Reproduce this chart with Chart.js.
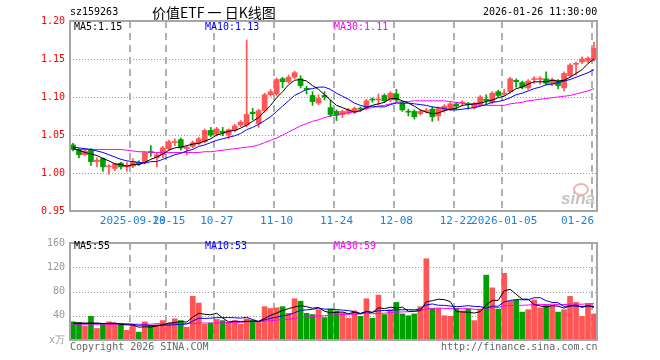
<!DOCTYPE html>
<html>
<head>
<meta charset="utf-8">
<script src="https://cdn.jsdelivr.net/npm/chart.js@4.4.1/dist/chart.umd.min.js"></script>
<style>
  body { margin: 0; background: #fff; }
  #wrap { position: relative; width: 660px; height: 360px; overflow: hidden; font-family: "DejaVu Sans Mono", monospace; font-size: 10px; }
  canvas { position: absolute; left: 0; }
  .t { position: absolute; line-height: 12px; white-space: pre; }
</style>
</head>
<body>
<div id="wrap">
  <canvas id="kline" width="660" height="232" style="top:0"></canvas>
  <canvas id="vol" width="660" height="128" style="top:232px"></canvas>

  <div class="t" style="left:70px;top:6px;color:#000">sz159263</div>
  <div class="t" style="left:152px;top:4px;font:14px 'Noto Sans CJK SC';line-height:16px;color:#000">价值ETF 一 日K线图</div>
  <div class="t" style="left:483px;top:6px;color:#000">2026-01-26 11:30:00</div>

  <div class="t" style="left:74px;top:21px;color:#000">MA5:1.15</div>
  <div class="t" style="left:205px;top:21px;color:#0000ff">MA10:1.13</div>
  <div class="t" style="left:334px;top:21px;color:#ff00ff">MA30:1.11</div>

  <div class="t" style="left:74px;top:240px;color:#000">MA5:55</div>
  <div class="t" style="left:205px;top:240px;color:#0000ff">MA10:53</div>
  <div class="t" style="left:334px;top:240px;color:#ff00ff">MA30:59</div>

  <div class="t" style="left:70px;top:341px;color:#666">Copyright 2026 SINA.COM</div>
  <div class="t" style="left:441px;top:341px;color:#666">http://finance.sina.com.cn</div>

  <!-- sina watermark -->
  <div style="position:absolute;left:573px;top:183px;width:12px;height:9px;border:2px solid #f3b0b0;border-radius:50%"></div>
  <div class="t" style="left:561px;top:190px;font:italic bold 17px 'Liberation Sans';line-height:18px;color:#c4c4c4">sina</div>
</div>

<script>
// trading days shown on the chart
var dates = ['2025-09-15','2025-09-16','2025-09-17','2025-09-18','2025-09-19','2025-09-22','2025-09-23','2025-09-24','2025-09-25','2025-09-26',
  '2025-09-29','2025-09-30','2025-10-09','2025-10-10','2025-10-13','2025-10-14','2025-10-15','2025-10-16','2025-10-17','2025-10-20',
  '2025-10-21','2025-10-22','2025-10-23','2025-10-24','2025-10-27','2025-10-28','2025-10-29','2025-10-30','2025-10-31','2025-11-03',
  '2025-11-04','2025-11-05','2025-11-06','2025-11-07','2025-11-10','2025-11-11','2025-11-12','2025-11-13','2025-11-14','2025-11-17',
  '2025-11-18','2025-11-19','2025-11-20','2025-11-21','2025-11-24','2025-11-25','2025-11-26','2025-11-27','2025-11-28','2025-12-01',
  '2025-12-02','2025-12-03','2025-12-04','2025-12-05','2025-12-08','2025-12-09','2025-12-10','2025-12-11','2025-12-12','2025-12-15',
  '2025-12-16','2025-12-17','2025-12-18','2025-12-19','2025-12-22','2025-12-23','2025-12-24','2025-12-25','2025-12-26','2025-12-29',
  '2025-12-30','2025-12-31','2026-01-05','2026-01-06','2026-01-07','2026-01-08','2026-01-09','2026-01-12','2026-01-13','2026-01-14',
  '2026-01-15','2026-01-16','2026-01-19','2026-01-20','2026-01-21','2026-01-22','2026-01-23','2026-01-26'];

// which days get a label + dashed grid line
// (last one padded so it stays inside the plot, like the original)
var tickIdx = [10, 16, 24, 34, 44, 54, 64, 72, 87];
var tickText = ['2025-09-29', '10-15', '10-27', '11-10', '11-24', '12-08', '12-22', '2026-01-05', '01-26     '];

var open = [1.037,1.031,1.024,1.031,1.015,1.019,1.008,1.006,1.013,1.008,
  1.009,1.014,1.014,1.028,1.020,1.024,1.032,1.040,1.044,1.032,
  1.035,1.039,1.041,1.056,1.051,1.055,1.050,1.056,1.063,1.063,
  1.080,1.065,1.082,1.103,1.104,1.124,1.120,1.126,1.124,1.111,
  1.102,1.092,1.102,1.086,1.081,1.077,1.079,1.080,1.085,1.085,
  1.097,1.096,1.102,1.096,1.104,1.092,1.081,1.081,1.078,1.081,
  1.084,1.075,1.082,1.084,1.091,1.092,1.091,1.086,1.090,1.097,
  1.093,1.107,1.104,1.107,1.122,1.119,1.112,1.123,1.123,1.124,
  1.117,1.121,1.112,1.128,1.143,1.146,1.147,1.149];
var high = [1.039,1.032,1.032,1.032,1.020,1.020,1.011,1.013,1.014,1.014,
  1.019,1.016,1.028,1.036,1.026,1.035,1.043,1.045,1.046,1.036,
  1.042,1.047,1.058,1.060,1.060,1.060,1.058,1.064,1.069,1.175,
  1.085,1.084,1.105,1.110,1.125,1.126,1.129,1.134,1.128,1.114,
  1.107,1.103,1.107,1.096,1.083,1.083,1.085,1.087,1.087,1.097,
  1.099,1.104,1.104,1.107,1.110,1.094,1.084,1.083,1.083,1.085,
  1.087,1.087,1.090,1.093,1.093,1.095,1.093,1.093,1.102,1.103,
  1.107,1.109,1.110,1.126,1.124,1.121,1.123,1.127,1.127,1.133,
  1.125,1.123,1.133,1.144,1.146,1.153,1.153,1.172];
var low = [1.029,1.020,1.023,1.010,1.008,1.002,0.998,1.003,1.005,1.002,
  1.007,1.010,1.012,1.022,1.008,1.020,1.030,1.036,1.030,1.024,
  1.033,1.037,1.040,1.048,1.049,1.049,1.045,1.054,1.061,1.061,
  1.070,1.060,1.080,1.101,1.102,1.112,1.118,1.124,1.112,1.104,
  1.089,1.090,1.096,1.074,1.069,1.073,1.077,1.078,1.081,1.083,
  1.093,1.089,1.093,1.094,1.094,1.081,1.075,1.071,1.076,1.079,
  1.068,1.069,1.080,1.082,1.084,1.088,1.084,1.084,1.088,1.090,
  1.091,1.100,1.102,1.105,1.113,1.111,1.110,1.118,1.117,1.116,
  1.115,1.111,1.108,1.126,1.129,1.144,1.145,1.147];
var close = [1.031,1.024,1.029,1.015,1.017,1.008,1.009,1.012,1.008,1.010,
  1.015,1.012,1.027,1.027,1.024,1.033,1.041,1.041,1.033,1.034,
  1.040,1.045,1.056,1.050,1.058,1.053,1.057,1.062,1.067,1.077,
  1.078,1.082,1.103,1.107,1.123,1.120,1.126,1.132,1.115,1.110,
  1.094,1.098,1.100,1.077,1.076,1.081,1.083,1.085,1.084,1.095,
  1.096,1.097,1.095,1.105,1.096,1.083,1.080,1.074,1.081,1.082,
  1.074,1.085,1.088,1.091,1.088,1.093,1.090,1.091,1.100,1.095,
  1.105,1.102,1.105,1.124,1.120,1.113,1.121,1.124,1.124,1.118,
  1.123,1.115,1.131,1.142,1.144,1.150,1.151,1.164];

var ma5 = [1.032,1.030,1.027,1.025,1.023,1.019,1.016,1.012,1.011,1.009,
  1.011,1.011,1.014,1.018,1.021,1.025,1.030,1.033,1.034,1.036,
  1.038,1.039,1.042,1.045,1.050,1.052,1.055,1.056,1.059,1.063,
  1.068,1.073,1.081,1.089,1.099,1.107,1.116,1.122,1.123,1.121,
  1.115,1.110,1.103,1.096,1.089,1.086,1.083,1.080,1.082,1.086,
  1.089,1.091,1.093,1.098,1.098,1.095,1.092,1.088,1.083,1.080,
  1.078,1.079,1.082,1.084,1.085,1.089,1.090,1.091,1.092,1.094,
  1.096,1.099,1.101,1.106,1.111,1.113,1.117,1.120,1.120,1.120,
  1.122,1.121,1.122,1.126,1.131,1.136,1.144,1.150];
var ma10 = [1.034,1.033,1.032,1.031,1.029,1.027,1.024,1.021,1.018,1.016,
  1.015,1.014,1.013,1.015,1.015,1.018,1.021,1.024,1.026,1.029,
  1.031,1.035,1.037,1.040,1.043,1.045,1.047,1.049,1.052,1.057,
  1.060,1.064,1.069,1.074,1.081,1.088,1.095,1.102,1.106,1.110,
  1.111,1.113,1.113,1.110,1.105,1.101,1.097,1.092,1.089,1.087,
  1.088,1.087,1.087,1.090,1.092,1.092,1.092,1.091,1.090,1.089,
  1.087,1.086,1.085,1.083,1.083,1.084,1.085,1.086,1.088,1.090,
  1.093,1.094,1.096,1.099,1.103,1.105,1.108,1.111,1.113,1.116,
  1.117,1.119,1.121,1.123,1.126,1.129,1.132,1.136];
var ma30 = [1.031,1.031,1.031,1.031,1.031,1.031,1.031,1.031,1.031,1.030,
  1.029,1.028,1.028,1.027,1.027,1.027,1.027,1.027,1.027,1.027,
  1.027,1.027,1.028,1.028,1.029,1.030,1.031,1.032,1.033,1.034,
  1.035,1.037,1.040,1.043,1.046,1.050,1.054,1.058,1.062,1.065,
  1.068,1.070,1.073,1.075,1.076,1.078,1.079,1.081,1.082,1.085,
  1.086,1.088,1.089,1.091,1.093,1.094,1.094,1.095,1.095,1.095,
  1.095,1.095,1.095,1.094,1.093,1.092,1.091,1.090,1.089,1.089,
  1.089,1.089,1.089,1.091,1.092,1.093,1.095,1.096,1.097,1.098,
  1.099,1.100,1.101,1.102,1.104,1.106,1.108,1.111];

// volume, in 万
var vol = [30,29,23,39,19,26,30,27,26,16,
  24,13,30,24,25,32,28,35,32,21,
  72,61,26,28,34,32,29,32,26,35,
  33,29,55,52,53,55,44,68,64,44,
  42,50,37,51,48,45,36,48,39,68,
  36,74,42,50,62,43,40,43,55,134,
  52,52,40,39,52,48,51,32,51,107,
  86,51,110,64,66,46,50,66,53,57,
  57,46,50,72,62,39,60,43];
var volMa5 = [28,28,28,28,28,27.2,27.4,28.2,25.6,25,
  24.6,21.2,21.8,21.4,23.2,24.8,27.8,28.8,30.4,29.6,
  37.6,44.2,42.4,41.6,44.2,36.2,29.8,31,30.6,30.8,
  31,31,35.6,40.8,44.4,48.8,51.8,54.4,56.8,55,
  52.4,53.6,47.4,44.8,45.6,46.2,43.4,45.6,43.2,47.2,
  45.4,53,51.8,54,52.8,54.2,47.4,47.6,48.6,63,
  64.8,67.2,66.6,63.4,47,46.2,46,44.4,46.8,57.8,
  65.4,65.4,81,83.6,75.4,67.4,67.2,58.4,56.2,54.4,
  56.6,55.8,52.6,56.4,57.4,53.8,56.6,55.2];
var volMa10 = [27,27,27,27,27,27,27,27,27,26.5,
  25.9,24.3,25,23.5,24.1,24.7,24.5,25.3,25.9,26.4,
  31.2,36,35.6,36,36.9,36.9,37,36.7,36.1,37.5,
  33.6,30.4,33.3,35.7,37.6,39.9,41.4,45,48.8,49.7,
  50.6,52.7,50.9,50.8,50.3,49.3,48.5,46.5,44,46.4,
  45.8,48.2,48.7,48.6,50,49.8,50.2,49.7,51.3,57.9,
  59.5,57.3,57.1,56,55,55.5,56.6,55.5,55.1,52.4,
  55.8,55.7,62.7,65.2,66.6,66.4,66.3,69.7,69.9,64.9,
  62,61.5,55.5,56.3,55.9,55.2,56.2,53.9];
var volMa30 = [26,26,26,26,26,26,26,26,26,26,
  26,26,26,26,27,27,27,27,27,27,
  27,28,28,28,28,29,29,29,29,30.1,
  30.2,30.2,31.3,31.7,32.9,33.8,34.3,35.7,36.9,37.9,
  38.5,39.7,39.9,40.8,41.6,42,42.3,42.7,43,44.5,
  43.3,43.8,44.3,45,46,46.3,46.7,47.1,48,51.3,
  52,52.7,52.2,51.8,51.8,51.5,51.8,50.6,50.1,52.2,
  53.7,53.7,56.2,56.6,57.2,57.2,57.7,58.3,58.8,58.4,
  59.1,58.2,58.4,59.2,59.2,59,59.7,59.7];

var RED = '#ff5555';
var GREEN = '#00a000';
var BAR_W = 5;

Chart.defaults.font.family = 'DejaVu Sans Mono';
Chart.defaults.font.size = 10;
Chart.defaults.animation = false;

function upDown(ctx) {
  var i = ctx.dataIndex;
  return close[i] >= open[i] ? RED : GREEN;
}

// dashed day lines, dotted value lines, gray frame
var gridAndFrame = {
  id: 'gridAndFrame',
  beforeDatasetsDraw: function(chart) {
    var a = chart.chartArea, c = chart.ctx;
    var xs = chart.scales.x, ys = chart.scales.y;
    c.save();
    // dotted horizontals
    c.strokeStyle = '#999999';
    c.lineWidth = 1;
    c.setLineDash([1, 2]);
    ys.ticks.forEach(function(t) {
      var y = Math.round(ys.getPixelForValue(t.value)) + 0.5;
      if (y <= a.top + 2 || y >= a.bottom - 2) return;
      c.beginPath();
      c.moveTo(a.left, y);
      c.lineTo(a.right, y);
      c.stroke();
    });
    // dashed verticals at the left edge of the labelled days
    c.strokeStyle = '#b0b0b0';
    c.lineWidth = 2;
    c.setLineDash([7, 5]);
    tickIdx.forEach(function(i) {
      var x = Math.round(xs.getPixelForValue(i) - BAR_W / 2);
      c.beginPath();
      c.moveTo(x, a.top);
      c.lineTo(x, a.bottom);
      c.stroke();
    });
    c.restore();
  },
  afterDraw: function(chart) {
    var a = chart.chartArea, c = chart.ctx;
    c.save();
    c.strokeStyle = '#a6a6a6';
    c.lineWidth = 2;
    c.strokeRect(a.left, a.top, a.right - a.left, a.bottom - a.top);
    c.restore();
  }
};

function xScale(showLabels, height) {
  return {
    type: 'category',
    offset: true,
    afterFit: function(s) { s.height = height; },
    grid: { display: false, drawTicks: false },
    border: { display: false },
    ticks: {
      display: showLabels,
      autoSkip: false,
      maxRotation: 0,
      minRotation: 0,
      padding: 4,
      color: '#1e7fd6',
      font: { size: 11 },
      callback: function(v, i) {
        var k = tickIdx.indexOf(i);
        return k >= 0 ? tickText[k] : '';
      }
    }
  };
}

function yScale(min, max, step, color, fmt) {
  return {
    min: min,
    max: max,
    afterFit: function(s) { s.width = 70; },
    grid: { display: false, drawTicks: false },
    border: { display: false },
    ticks: { stepSize: step, padding: 5, color: color, callback: fmt }
  };
}

function lineSet(data, color) {
  return { type: 'line', data: data, borderColor: color, borderWidth: 1, pointRadius: 0, tension: 0, order: 0 };
}

new Chart(document.getElementById('kline'), {
  type: 'bar',
  data: {
    labels: dates,
    datasets: [
      lineSet(ma5, '#000000'),
      lineSet(ma10, '#0000ff'),
      lineSet(ma30, '#ff00ff'),
      {
        data: open.map(function(o, i) { return [o, close[i]]; }),
        backgroundColor: upDown,
        barThickness: BAR_W,
        minBarLength: 1,
        grouped: false,
        order: 1
      },
      {
        data: low.map(function(l, i) { return [l, high[i]]; }),
        backgroundColor: upDown,
        barThickness: 1,
        grouped: false,
        order: 2
      }
    ]
  },
  options: {
    responsive: false,
    events: [],
    layout: { padding: { left: 0, right: 63, top: 21, bottom: 0 } },
    plugins: { legend: { display: false }, tooltip: { enabled: false } },
    scales: {
      x: xScale(true, 21),
      y: yScale(0.95, 1.20, 0.05, '#ff0000', function(v) { return v.toFixed(2); })
    }
  },
  plugins: [gridAndFrame]
});

new Chart(document.getElementById('vol'), {
  type: 'bar',
  data: {
    labels: dates,
    datasets: [
      lineSet(volMa5, '#000000'),
      lineSet(volMa10, '#0000ff'),
      lineSet(volMa30, '#ff00ff'),
      {
        data: vol,
        backgroundColor: upDown,
        barThickness: BAR_W,
        order: 1
      }
    ]
  },
  options: {
    responsive: false,
    events: [],
    layout: { padding: { left: 0, right: 63, top: 8, bottom: 0 } },
    plugins: { legend: { display: false }, tooltip: { enabled: false } },
    scales: {
      x: xScale(false, 20),
      y: yScale(0, 160, 40, '#999999', function(v) { return v === 0 ? 'x万' : v; })
    }
  },
  plugins: [gridAndFrame]
});
</script>
</body>
</html>
